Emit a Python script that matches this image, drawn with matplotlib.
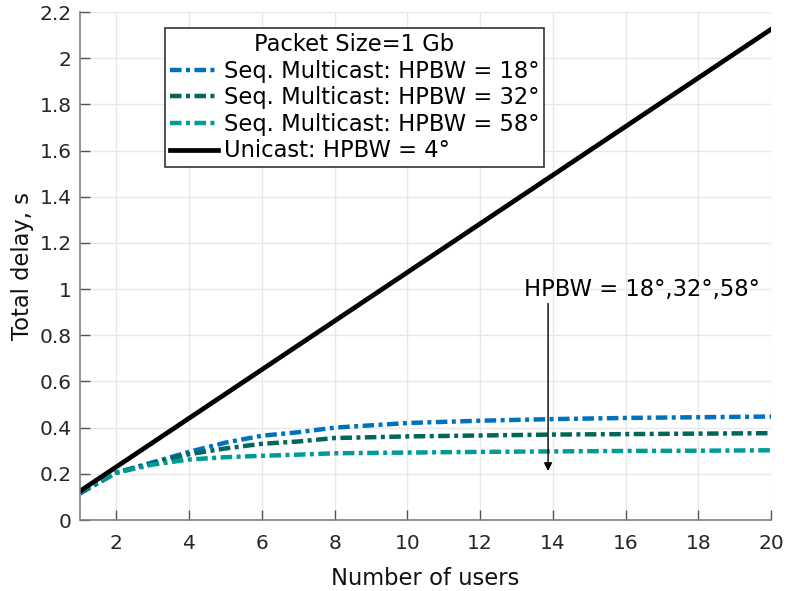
import matplotlib
matplotlib.use("Agg")
import matplotlib.pyplot as plt
import numpy as np

plt.rcParams['font.family'] = ['DejaVu Sans']

users_seq = [1, 2, 3, 4, 5, 6, 7, 8, 10, 12, 14, 16, 18, 20]
delay_18 = [0.115, 0.205, 0.25, 0.295, 0.335, 0.365, 0.38, 0.40, 0.42, 0.43, 0.437, 0.442, 0.445, 0.448]
delay_32 = [0.118, 0.205, 0.245, 0.285, 0.31, 0.33, 0.34, 0.355, 0.362, 0.366, 0.370, 0.372, 0.374, 0.376]
delay_58 = [0.122, 0.205, 0.24, 0.262, 0.272, 0.278, 0.283, 0.289, 0.292, 0.295, 0.297, 0.299, 0.300, 0.302]
users_uni = [1, 20]
delay_uni = [0.125, 2.125]

labels = ["Seq. Multicast: HPBW = 18°", "Seq. Multicast: HPBW = 32°",
          "Seq. Multicast: HPBW = 58°", "Unicast: HPBW = 4°"]
colors = ["#0072BD", "#00665E", "#009B96", "#000000"]
legend_title = "Packet Size=1 Gb"
annot_text = "HPBW = 18°,32°,58°"
xticks = [2, 4, 6, 8, 10, 12, 14, 16, 18, 20]
yticks = [0, 0.2, 0.4, 0.6, 0.8, 1, 1.2, 1.4, 1.6, 1.8, 2, 2.2]
ytick_labels = ["0", "0.2", "0.4", "0.6", "0.8", "1", "1.2", "1.4", "1.6", "1.8", "2", "2.2"]

fig = plt.figure(figsize=(7.87, 5.91), dpi=100)
ax = fig.add_axes([80/787, 1-520/591, (771-80)/787, (520-12)/591])

dash = (0, (2.6, 1.0, 0.9, 1.0))
ax.plot(users_seq, delay_18, color=colors[0], lw=3.2, linestyle=dash, label=labels[0])
ax.plot(users_seq, delay_32, color=colors[1], lw=3.2, linestyle=dash, label=labels[1])
ax.plot(users_seq, delay_58, color=colors[2], lw=3.2, linestyle=dash, label=labels[2])
ax.plot(users_uni, delay_uni, color=colors[3], lw=3.4, linestyle='-', label=labels[3])

ax.set_xlim(1, 20)
ax.set_ylim(0, 2.2)
ax.set_xticks(xticks)
ax.set_yticks(yticks)
ax.set_yticklabels(ytick_labels)
ax.tick_params(direction='in', length=7, labelsize=14.5, labelcolor='#262626',
               color='#555555', width=1)
ax.tick_params(axis='x', pad=10)
ax.tick_params(axis='y', pad=6)
for s in ['top', 'right']:
    ax.spines[s].set_visible(False)
for s in ['left', 'bottom']:
    ax.spines[s].set_color('#808080')
    ax.spines[s].set_linewidth(1.2)
ax.grid(True, color='#e8e8e8', lw=1)
ax.set_axisbelow(True)
ax.set_xlabel("Number of users", fontsize=16.3, color='#111111', labelpad=10)
ax.set_ylabel("Total delay, s", fontsize=16.3, color='#111111', labelpad=4)

leg = ax.legend(loc='upper left', bbox_to_anchor=(165/787, 1-28/591),
                bbox_transform=fig.transFigure, title=legend_title,
                fontsize=16.3, title_fontsize=16.3, frameon=True, fancybox=False,
                borderaxespad=0, handlelength=2.1, handletextpad=0.27,
                labelspacing=0.16, borderpad=0.22)
leg.get_frame().set_edgecolor('#333333')
leg.get_frame().set_linewidth(1.2)
leg.get_frame().set_alpha(1)

ax.annotate("", xy=(13.87, 0.2), xytext=(13.87, 0.95),
            arrowprops=dict(arrowstyle='-|>', color='black', lw=1, mutation_scale=12))
ax.text(13.2, 1.0, annot_text, fontsize=16.3, ha='left', va='center', color='black')

fig.savefig("out.png", dpi=100)
